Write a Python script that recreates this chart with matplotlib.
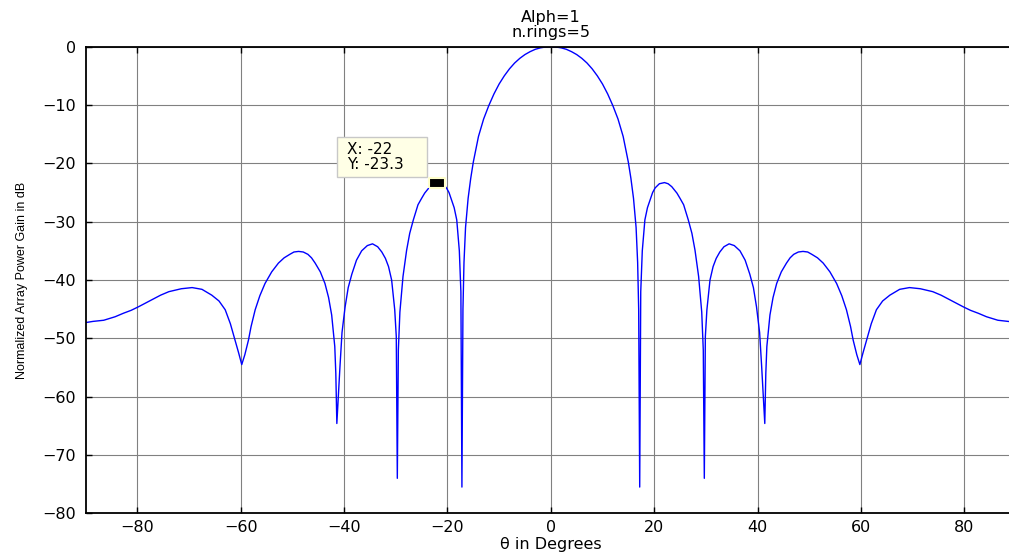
import numpy as np
from matplotlib import pyplot as plt
from matplotlib.patches import Rectangle

plt.close("all")

# angle (deg) and normalized gain (dB)
theta_left = [-90, -88.6, -86.5, -84.3, -82.7, -81.2, -79.8, -78.5, -77.0, -75.5,
              -73.9, -71.5, -69.4, -67.5, -65.6, -64.2, -63.0, -62.0, -61.1, -60.4,
              -59.8, -59.2, -58.5, -58.0, -57.2, -56.3, -55.3, -54.0, -52.7, -51.6,
              -50.5, -49.7, -48.8, -47.9, -47.0, -46.3, -45.6, -44.6, -43.7, -43.0,
              -42.4, -41.8, -41.6, -41.4, -40.8, -40.4, -39.8, -39.2, -38.5, -37.6,
              -36.6, -35.5, -34.5, -33.5, -32.7, -32.0, -31.4, -30.8, -30.2, -29.9,
              -29.7, -29.5, -29.2, -28.6, -27.9, -27.3, -26.6, -25.7, -25.0, -24.4,
              -23.4, -22.7, -22, -21, -20.2, -19.7, -19.2, -18.7, -18.2, -17.7,
              -17.4, -17.2, -17.0, -16.8, -16.5, -16, -15.5, -15, -14, -13,
              -12, -11, -10, -9, -8, -7, -6, -5, -4, -3, -2, -1]
gain_left = [-47.3, -47.1, -46.9, -46.3, -45.7, -45.2, -44.6, -44.0, -43.3, -42.6,
             -42.0, -41.5, -41.3, -41.6, -42.6, -43.6, -45.1, -47.5, -50.3, -52.5,
             -54.5, -52.8, -50.3, -48.0, -45.1, -42.7, -40.6, -38.6, -37.1, -36.2,
             -35.6, -35.2, -35.1, -35.2, -35.6, -36.2, -37.1, -38.6, -40.6, -43.0,
             -46.0, -51.4, -56.0, -64.6, -54.9, -49.0, -44.6, -41.3, -39.0, -36.6,
             -35.0, -34.1, -33.8, -34.3, -35.2, -36.3, -37.7, -40.0, -45.1, -49.7,
             -74.0, -52.0, -45.5, -39.4, -34.9, -32.0, -29.7, -27.1, -26.0, -25.1,
             -24.0, -23.5, -23.3, -23.5, -24.2, -25.0, -26.3, -27.6, -29.7, -35.0,
             -42.0, -75.5, -45.0, -37.0, -31.0, -26.0, -22.6, -19.8, -15.4, -12.4,
             -10.1, -8.1, -6.4, -5.0, -3.8, -2.8, -2.0, -1.35, -0.85, -0.45, -0.2, -0.05]

theta_right = [0, 1, 2, 3, 4, 5, 6, 7, 8, 9,
               10, 11, 12, 13, 14, 15, 15.5, 16, 16.5, 16.8,
               17.0, 17.2, 17.4, 17.7, 18.2, 18.7, 19.2, 19.7, 20.2, 21,
               22, 22.7, 23.4, 24.4, 25.0, 25.7, 26.6, 27.3, 27.9, 28.6,
               29.2, 29.5, 29.7, 29.9, 30.2, 30.8, 31.4, 32.0, 32.7, 33.5,
               34.5, 35.5, 36.6, 37.6, 38.5, 39.2, 39.8, 40.4, 40.8, 41.4,
               41.6, 41.8, 42.4, 43.0, 43.7, 44.6, 45.6, 46.3, 47.0, 47.9,
               48.8, 49.7, 50.5, 51.6, 52.7, 54.0, 55.3, 56.3, 57.2, 58.0,
               58.5, 59.2, 59.8, 60.4, 61.1, 62.0, 63.0, 64.2, 65.6, 67.5,
               69.4, 71.5, 73.9, 75.5, 77.0, 78.5, 79.8, 81.2, 82.7, 84.3,
               86.5, 88.6, 90]
gain_right = [0, -0.05, -0.2, -0.45, -0.85, -1.35, -2.0, -2.8, -3.8, -5.0,
              -6.4, -8.1, -10.1, -12.4, -15.4, -19.8, -22.6, -26.0, -31.0, -37.0,
              -45.0, -75.5, -42.0, -35.0, -29.7, -27.6, -26.3, -25.0, -24.2, -23.5,
              -23.3, -23.5, -24.0, -25.1, -26.0, -27.1, -29.7, -32.0, -34.9, -39.4,
              -45.5, -52.0, -74.0, -49.7, -45.1, -40.0, -37.7, -36.3, -35.2, -34.3,
              -33.8, -34.1, -35.0, -36.6, -39.0, -41.3, -44.6, -49.0, -54.9, -64.6,
              -56.0, -51.4, -46.0, -43.0, -40.6, -38.6, -37.1, -36.2, -35.6, -35.2,
              -35.1, -35.2, -35.6, -36.2, -37.1, -38.6, -40.6, -42.7, -45.1, -48.0,
              -50.3, -52.8, -54.5, -52.5, -50.3, -47.5, -45.1, -43.6, -42.6, -41.6,
              -41.3, -41.5, -42.0, -42.6, -43.3, -44.0, -44.6, -45.2, -45.7, -46.3,
              -46.9, -47.1, -47.3]

tip_x = -22
tip_y = -23.3

xticks = [-80, -60, -40, -20, 0, 20, 40, 60, 80]
yticks = [-80, -70, -60, -50, -40, -30, -20, -10, 0]

theta = np.concatenate([theta_left, theta_right])
gain_db = np.concatenate([gain_left, gain_right])

plt.rcParams['font.family'] = ['DejaVu Sans']

fig = plt.figure(figsize=(10.09, 5.55), dpi=100)
ax = fig.add_axes([0.0849, 0.0751, 0.922, 0.8408])

ax.plot(theta, gain_db, color='#0000ff', lw=1.0)

# data tip
ax.plot(tip_x, tip_y, marker=[(-1, -0.55), (1, -0.55), (1, 0.55), (-1, 0.55), (-1, -0.55)],
        markersize=12, markerfacecolor='black', markeredgecolor='#ffffcc', markeredgewidth=1.5,
        zorder=5)
ax.add_patch(Rectangle((-41.4, -22.3), 17.5, 6.8, facecolor='#ffffe6', edgecolor='#c8c8c8',
                       lw=1, zorder=4))
ax.text(-39.5, -18.9, "X: %g\nY: %g" % (tip_x, tip_y), fontsize=11, va='center', ha='left',
        linespacing=0.95, zorder=6)

ax.set_xlim(-90, 90)
ax.set_ylim(-80, 0)
ax.set_xticks(xticks)
ax.set_yticks(yticks)
ax.grid(True, color='#808080', lw=0.8)
ax.tick_params(direction='in', length=4, width=1, top=True, right=True, labelsize=11.5)
ax.tick_params(axis='y', pad=7)
ax.tick_params(axis='x', pad=5)
for s in ax.spines.values():
    s.set_linewidth(1.3)
    s.set_color('black')

ax.set_title("Alph=1\nn.rings=5", fontsize=11.5, pad=7, linespacing=1.0)
ax.set_xlabel("θ in Degrees", fontsize=11.5, labelpad=1)
ax.set_ylabel("Normalized Array Power Gain in dB", fontsize=9,
              family=['Liberation Sans', 'DejaVu Sans'], labelpad=10)

fig.savefig("out.png", dpi=100)
